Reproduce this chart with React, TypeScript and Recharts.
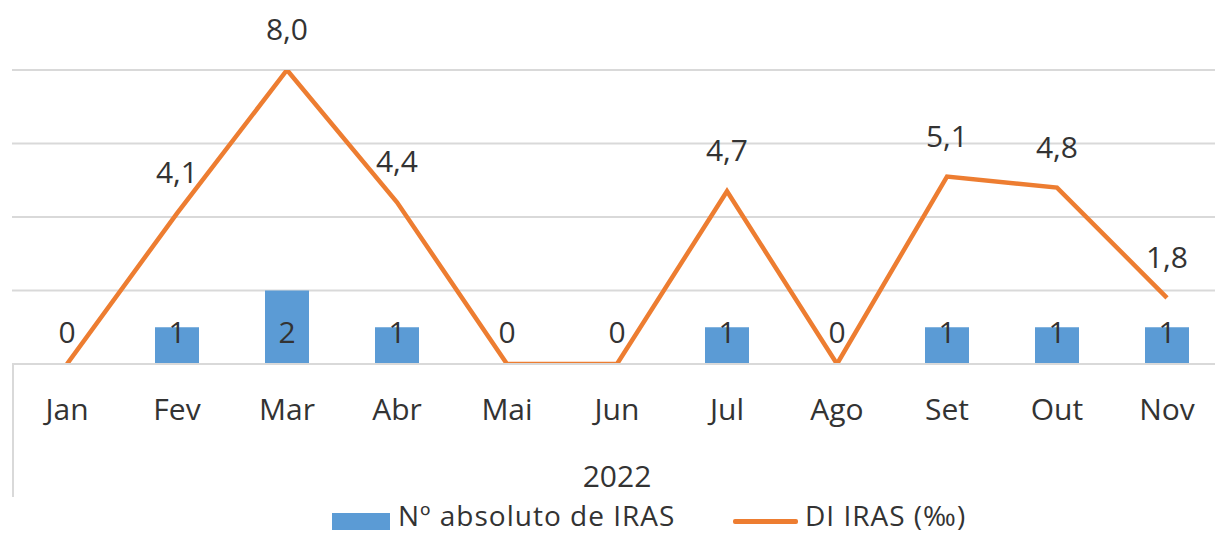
import { ComposedChart, Bar, Line, XAxis, YAxis, CartesianGrid, LabelList, Legend } from "recharts";

const months = ["Jan", "Fev", "Mar", "Abr", "Mai", "Jun", "Jul", "Ago", "Set", "Out", "Nov"];
const iras = [0, 1, 2, 1, 0, 0, 1, 0, 1, 1, 1];
const diIras = [0, 4.1, 8.0, 4.4, 0, 0, 4.7, 0, 5.1, 4.8, 1.8];
const yTicks = [0, 2, 4, 6, 8];
const yearLabel = "2022";

const BLUE = "#5b9bd5";
const ORANGE = "#ed7d31";
const TEXT = "#333333";
const GRID = "#d9d9d9";
const FONT = "'Open Sans', sans-serif";
const FS = 30;

const data = months.map((m, i) => ({ month: m, iras: iras[i], di: diIras[i] }));

const fmt = (v: number) => v.toFixed(1).replace(".", ",");

function MonthTick(props: any) {
  const { x, y, payload } = props;
  return (
    <text x={x} y={y + 56} textAnchor="middle" fill={TEXT} fontSize={FS} fontFamily={FONT}>
      {payload.value}
    </text>
  );
}

function YearLabel(props: any) {
  const { viewBox } = props;
  const { x, y, width } = viewBox;
  return (
    <g>
      <line x1={x + 1} y1={y} x2={x + 1} y2={y + 133} stroke={GRID} strokeWidth={2} />
      <text x={x + width / 2} y={y + 123} textAnchor="middle" fill={TEXT} fontSize={FS} fontFamily={FONT}>
        {yearLabel}
      </text>
    </g>
  );
}

function BarValue(props: any) {
  const { x, y, width, height, value } = props;
  return (
    <text x={x + width / 2} y={y + height - 21} textAnchor="middle" fill={TEXT} fontSize={FS} fontFamily={FONT}>
      {value}
    </text>
  );
}

function LineValue(props: any) {
  const { x, y, value } = props;
  if (!value) return null;
  return (
    <text x={x} y={y - 30} textAnchor="middle" fill={TEXT} fontSize={FS} fontFamily={FONT}>
      {fmt(value)}
    </text>
  );
}

function LegendBox() {
  const txt = { position: "absolute" as const, top: -5, whiteSpace: "nowrap" as const, lineHeight: "26px", letterSpacing: 1 };
  return (
    <div style={{ position: "relative", height: 24, fontFamily: FONT, fontSize: 28, color: TEXT }}>
      <div style={{ position: "absolute", left: 0, top: 6, width: 58, height: 17, background: BLUE }} />
      <div style={{ ...txt, left: 66 }}>Nº absoluto de IRAS</div>
      <div style={{ position: "absolute", left: 401, top: 12, width: 65, height: 5, background: ORANGE, borderRadius: 2 }} />
      <div style={{ ...txt, left: 473 }}>DI IRAS (‰)</div>
    </div>
  );
}

export default function App() {
  return (
    <div style={{ position: "absolute", left: 0, top: 0, width: 1215, height: 535, overflow: "hidden", background: "#fff" }}>
      <ComposedChart
        width={1240}
        height={535}
        data={data}
        margin={{ top: 70, right: 18, left: 12, bottom: 41 }}
        barCategoryGap={32}
      >
        <CartesianGrid horizontal vertical={false} stroke={GRID} strokeWidth={2} />
        <XAxis
          dataKey="month"
          height={130}
          tickLine={false}
          tickSize={0}
          tickMargin={0}
          axisLine={{ stroke: GRID, strokeWidth: 2 }}
          tick={<MonthTick />}
          interval={0}
          label={<YearLabel />}
        />
        <YAxis hide domain={[0, 8]} ticks={yTicks} allowDataOverflow />
        <Bar
          dataKey="iras"
          name="Nº absoluto de IRAS"
          fill={BLUE}
          barSize={44}
          minPointSize={(v: number) => (v === 0 ? 0.01 : 0)}
          isAnimationActive={false}
        >
          <LabelList dataKey="iras" content={<BarValue />} />
        </Bar>
        <Line
          dataKey="di"
          name="DI IRAS (‰)"
          type="linear"
          stroke={ORANGE}
          strokeWidth={4.5}
          dot={false}
          activeDot={false}
          isAnimationActive={false}
        >
          <LabelList dataKey="di" content={<LineValue />} />
        </Line>
        <Legend
          verticalAlign="middle"
          align="center"
          layout="horizontal"
          content={<LegendBox />}
          wrapperStyle={{ position: "absolute", left: 332, top: 507, width: 760, height: 24 }}
        />
      </ComposedChart>
    </div>
  );
}
